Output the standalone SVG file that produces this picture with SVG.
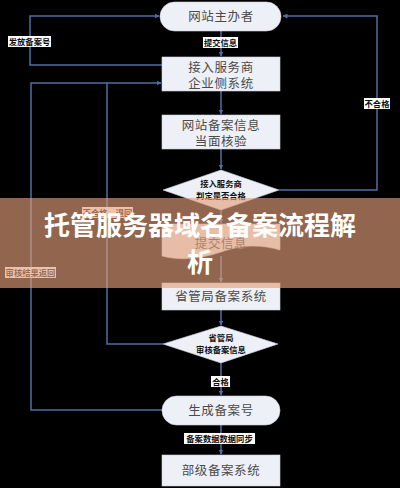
<svg xmlns="http://www.w3.org/2000/svg" width="400" height="488" viewBox="0 0 400 488">
<defs>
<marker id="ah" viewBox="0 0 10 10" refX="9" refY="5" markerWidth="5" markerHeight="5" orient="auto" markerUnits="userSpaceOnUse">
<path d="M0,0 L10,5 L0,10 z" fill="#4f6fa3"/>
</marker>
<style>
.node{fill:#eef0f7;stroke:#cfd4e2;stroke-width:0.6}
.nt{font-family:"Noto Sans CJK SC","Noto Sans",sans-serif;font-size:12.5px;fill:#4a4a4a;text-anchor:middle;letter-spacing:0.6px}
.dt{font-family:"Noto Sans CJK SC","Noto Sans",sans-serif;font-size:8.3px;font-weight:bold;fill:#111;text-anchor:middle}
.lb{fill:#ffffff}
.lt{font-family:"Noto Sans CJK SC","Noto Sans",sans-serif;font-size:8.3px;font-weight:bold;fill:#111;text-anchor:middle}
.c{fill:none;stroke:#4f6fa3;stroke-width:1.5}
.title{font-family:"Noto Sans CJK SC","Noto Sans",sans-serif;font-size:26px;font-weight:bold;fill:#ffffff;text-anchor:middle}
</style>
</defs>
<rect width="400" height="488" fill="#000000"/>

<g id="connectors">
<path class="c" d="M221,31 V56" marker-end="url(#ah)"/>
<path class="c" d="M221,91 V114" marker-end="url(#ah)"/>
<path class="c" d="M221,149 V169" marker-end="url(#ah)"/>
<path class="c" d="M279,190 H377 V16 H283" marker-end="url(#ah)"/>
<path class="c" d="M162,65 H30 V16 H159" marker-end="url(#ah)"/>
<path class="c" d="M162,410 H31 V83 H161" marker-end="url(#ah)"/>
<path class="c" d="M163,344 H107 V83"/>
<path class="c" d="M221,210 V223" marker-end="url(#ah)"/>
<path class="c" d="M221,256 V282" marker-end="url(#ah)"/>
<path class="c" d="M221,310 V325" marker-end="url(#ah)"/>
<path class="c" d="M221,363 V395" marker-end="url(#ah)"/>
<path class="c" d="M221,425 V454" marker-end="url(#ah)"/>
<path d="M163,67 Q172,74 163,81" fill="none" stroke="#9aa3b5" stroke-width="1" stroke-dasharray="2,2"/>
<rect class="lb" x="8" y="36" width="43" height="11"/>
<text class="lt" x="29.5" y="44.8">发放备案号</text>
<rect class="lb" x="203" y="37" width="35" height="11"/>
<text class="lt" x="220.5" y="45.8">提交信息</text>
<rect class="lb" x="364" y="98" width="26" height="11"/>
<text class="lt" x="377" y="106.8">不合格</text>
<rect class="lb" x="82" y="207" width="51" height="11"/>
<text class="lt" x="107.5" y="215.8">不合格，退回</text>
<rect class="lb" x="5" y="267" width="51" height="11"/>
<text class="lt" x="30.5" y="275.8">审核结果返回</text>
<rect class="lb" x="211" y="376" width="19" height="11"/>
<text class="lt" x="220.5" y="384.8">合格</text>
<rect class="lb" x="184" y="433" width="71" height="11"/>
<text class="lt" x="219.5" y="441.8">备案数据数据同步</text>
</g>

<g id="n1">
<rect class="node" x="160" y="2" width="121" height="29" rx="14.5"/>
<text class="nt" x="221" y="21">网站主办者</text>
</g>
<g id="n2">
<rect class="node" x="162" y="57" width="118" height="34"/>
<text class="nt" x="221" y="72">接入服务商</text>
<text class="nt" x="221" y="88">企业侧系统</text>
</g>
<g id="n3">
<rect class="node" x="162" y="115" width="118" height="34"/>
<text class="nt" x="221" y="130">网站备案信息</text>
<text class="nt" x="221" y="146">当面核验</text>
</g>
<g id="n4">
<polygon class="node" points="221,170 279,190 221,210 163,190"/>
<text class="dt" x="221" y="187">接入服务商</text>
<text class="dt" x="221" y="199">判定是否合格</text>
</g>
<g id="n5">
<path class="node" d="M162,224 H280 V250 C262,245 244,244 221,252 C200,259 180,261 162,256 Z"/>
<text class="nt" x="221" y="248">提交信息</text>
</g>
<g id="n6">
<rect class="node" x="162" y="283" width="118" height="27"/>
<text class="nt" x="221" y="301">省管局备案系统</text>
</g>
<g id="n7">
<polygon class="node" points="221,326 278,344 221,363 163,344"/>
<text class="dt" x="221" y="341">省管局</text>
<text class="dt" x="221" y="353">审核备案信息</text>
</g>
<g id="n8">
<rect class="node" x="162" y="396" width="118" height="29" rx="14.5"/>
<text class="nt" x="221" y="415">生成备案号</text>
</g>
<g id="n9">
<rect class="node" x="162" y="455" width="118" height="31"/>
<text class="nt" x="221" y="475">部级备案系统</text>
</g>

<g id="banner">
<rect x="0" y="198" width="400" height="90" fill="rgb(228,159,122)" fill-opacity="0.64"/>
<text class="title" x="200" y="235">托管服务器域名备案流程解</text>
<text class="title" x="200" y="272">析</text>
</g>
</svg>
